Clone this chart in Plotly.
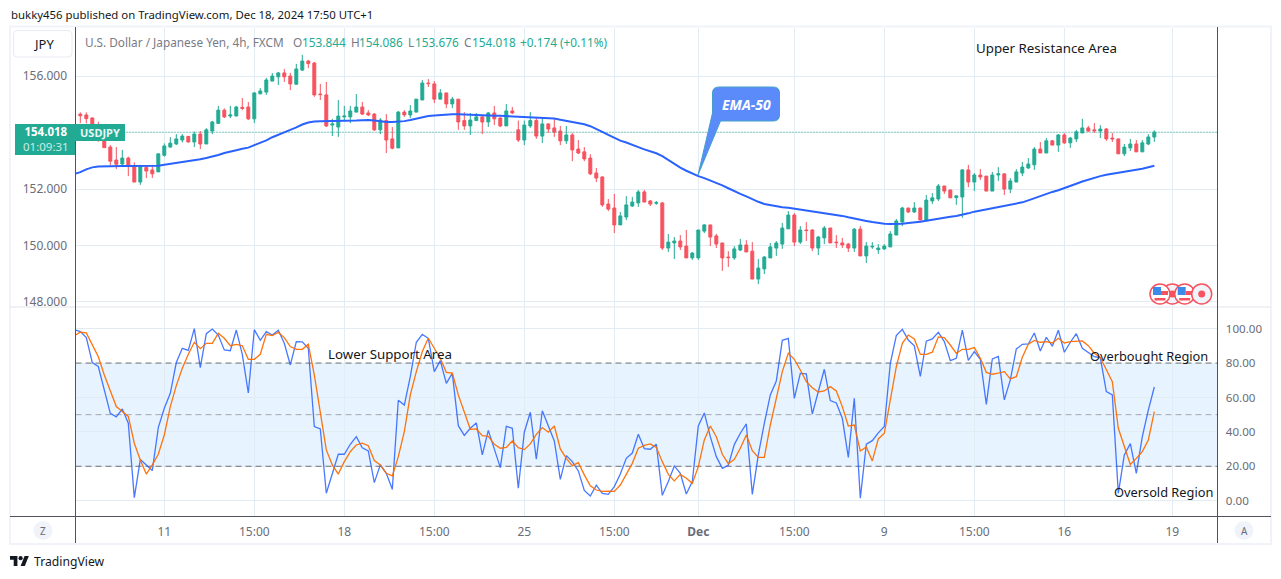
import plotly.graph_objects as go

# ---- data -----------------------------------------------------------------
bars = list(range(180))
open_ = [154.66,154.63,154.52,154.27,153.72,153.49,153.03,152.89,153.10,152.82,
152.25,152.77,152.68,152.61,153.20,153.49,153.60,153.74,153.87,153.67,
153.95,153.60,154.06,154.33,154.80,154.59,154.59,154.90,154.91,154.49,
155.38,155.44,155.83,155.98,156.12,156.01,155.72,156.22,156.54,156.47,
155.37,155.34,154.27,154.20,154.56,154.56,154.73,154.91,154.70,154.66,
154.10,154.43,153.78,153.46,154.73,154.63,154.73,155.16,155.76,155.73,
155.19,155.41,155.02,155.19,154.43,154.24,154.43,154.56,154.38,154.70,
154.52,154.24,154.77,154.10,153.74,154.24,154.43,153.88,154.31,154.17,
154.06,153.71,153.92,153.42,153.32,153.10,152.57,152.43,151.47,151.33,
150.73,151.01,151.40,151.51,151.90,151.58,151.50,151.51,149.91,150.09,
150.16,149.98,149.56,149.56,150.51,150.73,150.34,150.09,149.59,149.56,
149.84,150.02,149.80,148.81,149.17,149.56,149.91,150.05,150.59,151.08,
150.12,150.55,150.55,149.91,150.27,150.62,150.12,150.09,150.05,149.91,
150.58,149.63,149.95,149.85,149.88,149.95,150.37,150.83,151.33,151.19,
151.33,150.90,151.58,151.65,152.11,151.97,151.70,151.72,152.68,152.25,
152.50,152.46,151.93,152.50,152.54,152.00,152.25,152.57,152.75,152.86,
153.42,153.28,153.71,153.56,153.92,153.64,153.78,153.99,154.17,154.10,
154.06,154.13,153.81,153.78,153.25,153.46,153.60,153.32,153.60,153.844]
close = [154.60,154.50,154.04,153.80,153.47,152.99,152.88,153.10,152.80,152.25,
152.80,152.64,152.54,153.25,153.53,153.63,153.78,153.88,153.67,153.95,
153.60,154.10,154.38,154.80,154.56,154.63,154.91,154.86,154.49,155.41,
155.48,155.87,156.01,156.12,155.98,155.73,156.26,156.54,156.45,155.34,
155.35,154.24,154.31,154.59,154.59,154.77,154.91,154.66,154.63,154.10,
154.45,153.74,153.45,154.73,154.63,154.77,155.19,155.76,155.74,155.19,
155.41,155.02,155.19,154.38,154.24,154.45,154.56,154.38,154.70,154.49,
154.24,154.77,154.70,153.74,154.27,154.43,153.88,154.31,154.13,154.02,
153.71,153.92,153.39,153.28,153.07,152.54,152.39,151.44,151.29,150.73,
151.05,151.44,151.54,151.90,151.54,151.47,151.52,149.91,150.12,150.16,
149.95,149.56,149.73,150.55,150.73,150.30,150.05,149.56,149.57,149.88,
150.02,149.77,148.81,149.20,149.59,149.95,150.09,150.62,151.08,150.12,
150.55,150.53,149.91,150.30,150.62,150.09,150.10,150.02,149.91,150.58,
149.63,149.98,149.97,149.91,149.98,150.41,150.87,151.33,151.19,151.33,
150.90,151.61,151.69,152.11,151.93,151.69,151.76,152.68,152.25,152.50,
152.43,151.93,152.50,152.54,152.00,152.29,152.61,152.78,152.89,153.42,
153.28,153.71,153.56,153.92,153.64,153.81,154.03,154.17,154.06,154.07,
154.13,153.78,153.78,153.25,153.49,153.60,153.32,153.64,153.85,154.018]
high = [154.72,154.72,154.55,154.39,153.77,153.56,153.49,153.39,153.15,152.95,
152.86,152.83,152.86,153.25,153.62,153.84,153.95,153.95,153.88,154.04,
154.06,154.16,154.42,154.95,154.86,154.95,154.95,155.23,155.09,155.44,
155.58,155.94,156.12,156.15,156.26,156.12,156.44,156.76,156.58,156.51,
155.73,155.80,154.49,155.16,154.95,154.95,155.37,155.09,154.80,154.70,
154.52,154.66,154.20,154.77,154.80,154.98,155.19,155.87,155.90,155.83,
155.55,155.41,155.27,155.19,154.73,154.70,154.70,154.59,154.73,154.95,
154.56,155.02,154.91,154.43,154.43,154.73,154.56,154.52,154.34,154.49,
154.24,154.24,153.99,153.74,153.49,153.24,152.75,152.46,151.65,151.83,
151.19,151.75,151.72,151.97,151.97,151.61,151.58,151.54,150.41,150.30,
150.37,150.55,149.77,150.55,150.76,150.73,150.41,150.09,149.80,149.98,
150.23,150.19,150.12,149.52,149.63,150.09,150.16,150.80,151.22,151.15,
150.69,150.83,150.58,150.34,150.69,150.62,150.37,150.27,150.09,150.62,
150.69,150.12,150.12,150.05,150.05,150.51,150.94,151.37,151.33,151.54,
151.33,151.79,151.86,152.18,152.11,151.97,151.76,152.71,152.86,152.57,
152.71,152.46,152.61,152.78,152.54,152.39,152.71,152.96,153.10,153.49,
153.67,153.81,153.74,153.95,153.99,153.85,154.10,154.49,154.24,154.34,
154.27,154.17,153.99,153.78,153.60,153.78,153.74,153.74,153.95,154.086]
low = [154.34,154.33,153.74,153.68,153.47,152.84,152.71,152.83,152.46,152.25,
152.15,152.39,152.39,152.61,153.15,153.47,153.56,153.65,153.65,153.49,
153.42,153.60,153.95,154.31,154.52,154.52,154.59,154.80,154.45,154.34,
155.36,155.34,155.83,155.69,155.80,155.51,155.69,156.19,156.29,155.27,
155.16,154.20,153.88,153.85,154.45,154.34,154.73,154.63,154.59,154.06,
153.95,153.28,153.41,153.46,154.56,154.52,154.73,155.16,155.62,155.05,
155.19,154.87,154.87,154.10,154.10,153.92,154.43,153.95,154.20,154.27,
154.20,154.24,154.66,153.67,153.56,154.17,153.78,153.63,153.99,153.85,
153.56,153.60,152.99,153.24,152.99,152.50,152.25,151.37,151.22,150.44,
150.73,150.90,151.37,151.37,151.54,151.40,151.44,149.84,149.77,149.52,
149.84,149.56,149.49,149.49,150.44,149.98,149.91,149.10,149.24,149.49,
149.80,149.77,148.81,148.63,148.99,149.56,149.63,149.88,150.59,149.98,
150.05,150.16,149.80,149.66,150.05,150.09,149.91,149.91,149.77,149.77,
149.63,149.38,149.88,149.70,149.84,149.95,150.37,150.69,151.15,151.15,
150.90,150.90,151.47,151.58,151.83,151.69,151.44,150.98,152.07,151.93,
152.32,151.93,151.93,152.29,151.79,151.86,152.25,152.46,152.71,152.68,
153.28,153.28,153.56,153.32,153.60,153.46,153.67,153.99,154.03,153.99,
153.81,153.71,153.67,153.25,153.17,153.35,153.32,153.32,153.56,153.676]

# first value of the three lines below sits one bar left of the first candle
line_bars = [-1] + bars
ema50 = [152.54,152.60,152.70,152.77,152.80,152.81,152.82,152.82,152.82,152.82,152.82,
152.81,152.81,152.81,152.83,152.86,152.89,152.92,152.95,152.99,153.03,
153.06,153.10,153.15,153.21,153.28,153.34,153.38,153.43,153.47,153.56,
153.64,153.73,153.84,153.92,154.02,154.10,154.19,154.29,154.36,154.40,
154.41,154.41,154.41,154.42,154.42,154.43,154.43,154.44,154.45,154.43,
154.40,154.38,154.38,154.39,154.41,154.45,154.50,154.54,154.59,154.61,
154.63,154.65,154.65,154.65,154.64,154.62,154.62,154.61,154.61,154.60,
154.60,154.59,154.58,154.57,154.56,154.55,154.54,154.54,154.53,154.50,
154.46,154.42,154.38,154.34,154.30,154.23,154.14,154.03,153.92,153.81,
153.72,153.65,153.56,153.49,153.41,153.34,153.27,153.17,153.03,152.90,
152.76,152.65,152.55,152.46,152.39,152.31,152.23,152.13,152.03,151.92,
151.83,151.74,151.64,151.55,151.47,151.43,151.39,151.36,151.34,151.31,
151.28,151.25,151.21,151.18,151.15,151.12,151.10,151.05,151.00,150.95,
150.91,150.87,150.83,150.79,150.77,150.76,150.76,150.77,150.80,150.81,
150.84,150.88,150.92,150.95,151.00,151.02,151.05,151.09,151.14,151.20,
151.24,151.27,151.31,151.36,151.39,151.43,151.47,151.53,151.60,151.68,
151.76,151.84,151.90,151.96,152.03,152.10,152.19,152.27,152.34,152.40,
152.46,152.51,152.55,152.59,152.63,152.66,152.69,152.72,152.77,152.83]
stoch_k = [99.4,98.3,94.8,80.3,78.0,64.4,50.8,48.7,53.3,45.0,1.8,
23.9,20.8,17.5,42.5,53.7,62.4,80.3,88.6,87.4,100.0,
77.4,97.1,99.8,96.3,87.6,87.2,99.2,85.1,62.6,99.4,
93.2,98.3,96.3,99.1,91.5,78.9,92.5,92.3,88.6,43.1,
41.7,4.3,15.9,27.0,27.0,32.8,37.2,30.8,28.9,10.5,
20.8,15.9,6.6,58.4,55.6,72.1,92.1,96.7,94.4,75.0,
81.4,68.2,74.0,43.6,38.0,42.1,45.2,26.6,40.9,30.5,
19.2,43.2,42.1,7.2,39.8,51.4,24.1,52.3,43.1,34.7,
12.4,26.2,22.7,17.3,6.0,2.7,9.0,4.3,3.7,8.2,
15.5,24.6,27.7,38.6,30.3,29.9,32.8,3.1,11.1,20.2,
15.9,3.9,11.1,43.4,51.0,37.2,25.6,18.8,20.6,32.6,
39.2,44.6,3.7,26.6,45.0,61.5,69.6,93.2,94.4,59.5,
74.0,73.7,50.4,63.0,76.4,58.2,56.8,47.9,25.2,59.5,
1.4,32.8,34.9,39.4,43.1,79.9,96.0,99.6,93.4,90.0,
72.3,92.7,94.0,97.9,92.5,81.4,82.8,99.2,81.6,86.7,
82.2,56.0,82.4,83.9,58.6,70.2,88.2,90.9,91.1,97.5,
87.0,95.0,89.8,99.1,86.3,92.1,97.1,88.6,86.3,83.7,
83.2,63.4,61.5,4.3,26.6,33.2,15.9,37.2,52.7,66.1]
stoch_d = [96.0,97.9,97.5,90.9,83.7,73.1,64.4,54.7,51.8,49.0,33.4,
23.7,15.5,20.8,27.0,38.2,54.7,66.9,77.0,85.1,92.1,
88.4,91.5,91.5,97.3,94.4,90.1,90.9,90.1,82.2,82.2,
85.1,96.7,96.0,97.9,94.8,89.6,88.0,88.0,90.9,73.1,
51.8,29.5,20.8,15.5,22.7,28.5,32.4,33.4,32.0,23.3,
20.8,15.9,14.4,25.6,40.1,61.5,75.0,86.7,94.4,88.6,
82.8,74.6,74.2,61.5,50.8,41.5,41.7,37.8,37.4,32.8,
30.5,31.0,34.7,30.8,29.7,33.0,38.6,42.5,39.8,43.4,
30.1,24.6,20.4,22.1,15.0,8.7,6.2,5.4,5.6,5.4,
9.1,15.0,21.7,30.5,32.2,33.0,31.0,22.7,15.3,11.5,
15.3,13.0,10.1,19.8,35.3,43.4,37.2,27.0,21.5,24.1,
30.5,38.2,29.1,25.2,25.2,44.0,59.5,75.0,85.7,82.2,
76.0,69.2,65.7,63.2,63.8,66.3,63.8,54.7,43.4,44.0,
28.9,31.2,23.1,35.9,39.2,58.6,77.9,91.5,96.3,94.0,
85.1,85.1,86.3,95.2,94.8,90.5,85.7,88.0,88.0,89.0,
82.8,74.6,73.5,74.1,75.0,70.8,72.1,83.4,90.9,93.2,
92.1,92.5,91.7,94.4,91.7,92.5,92.5,92.9,90.1,85.7,
83.2,76.0,69.2,42.1,31.4,21.0,24.6,28.5,35.3,51.8]

time_ticks = [14,29,44,59,74,89,103,119,134,149,164,182]
time_labels = ["11","15:00","18","15:00","25","15:00","<b>Dec</b>","15:00","9","15:00","16","19"]
price_ticks = [148,150,152,154,156]
price_labels = ["148.000","150.000","152.000","","156.000"]
stoch_ticks = [0,20,40,60,80,100]
stoch_labels = ["0.00","20.00","40.00","60.00","80.00","100.00"]
last_price = 154.018
band_low, band_mid, band_high = 20, 50, 80

W, H = 1281, 579
UP, DOWN = "#22ab94", "#f7525f"
GRID, AXIS, TEXT, SEP = "#e2ecf3", "#50535e", "#6a6d78", "#e0e3eb"
FONT = "Noto Sans"
PANE_L, PANE_R = 75.5, 1217.5
x_range = [-0.8, 189.53]


def X(px):
    return px / W


def Y(py):
    return 1 - py / H


def poly(points):
    return "M" + " L".join(f"{X(a):.5f},{Y(b):.5f}" for a, b in points) + " Z"


fig = go.Figure()
fig.add_trace(go.Candlestick(
    x=bars, open=open_, high=high, low=low, close=close,
    xaxis="x", yaxis="y", whiskerwidth=0,
    increasing=dict(line=dict(color=UP, width=1), fillcolor=UP),
    decreasing=dict(line=dict(color=DOWN, width=1), fillcolor=DOWN),
    showlegend=False, hoverinfo="skip"))
fig.add_trace(go.Scatter(x=x_range, y=[last_price, last_price], mode="lines", xaxis="x", yaxis="y",
                         line=dict(color=UP, width=1, dash="1px,2px"), showlegend=False, hoverinfo="skip"))
fig.add_trace(go.Scatter(x=line_bars, y=ema50, mode="lines", xaxis="x", yaxis="y",
                         line=dict(color="#2962ff", width=2), showlegend=False, hoverinfo="skip"))
for level, colour in ((band_low, "#6f7178"), (band_mid, "#a4a7ae"), (band_high, "#6f7178")):
    fig.add_trace(go.Scatter(x=x_range, y=[level, level], mode="lines", xaxis="x2", yaxis="y2",
                             line=dict(color=colour, width=1, dash="6px,4px"), showlegend=False, hoverinfo="skip"))
fig.add_trace(go.Scatter(x=line_bars, y=stoch_k, mode="lines", xaxis="x2", yaxis="y2",
                         line=dict(color="#2962ff", width=1.3), opacity=0.85, showlegend=False, hoverinfo="skip"))
fig.add_trace(go.Scatter(x=line_bars, y=stoch_d, mode="lines", xaxis="x2", yaxis="y2",
                         line=dict(color="#ff6d00", width=1.3), opacity=0.95, showlegend=False, hoverinfo="skip"))

shapes = []
# stochastic band
shapes.append(dict(type="rect", xref="x2 domain", yref="y2", x0=0, x1=1, y0=band_low, y1=band_high,
                   fillcolor="rgba(33,150,243,0.11)", line=dict(width=0), layer="below"))


def paper_line(x0, y0, x1, y1, colour, width=1):
    shapes.append(dict(type="line", xref="paper", yref="paper", x0=X(x0), x1=X(x1), y0=Y(y0), y1=Y(y1),
                       line=dict(color=colour, width=width), layer="above"))


def paper_rect(x0, y0, x1, y1, fill, line=None, lw=0):
    shapes.append(dict(type="rect", xref="paper", yref="paper", x0=X(x0), x1=X(x1), y0=Y(y0), y1=Y(y1),
                       fillcolor=fill, line=dict(color=line or fill, width=lw), layer="above"))


def paper_circle(cx, cy, r, fill, line=None, lw=0):
    shapes.append(dict(type="circle", xref="paper", yref="paper", x0=X(cx - r), x1=X(cx + r),
                       y0=Y(cy - r), y1=Y(cy + r), fillcolor=fill,
                       line=dict(color=line or fill, width=lw), layer="above"))


def paper_path(points, fill, line=None, lw=0):
    shapes.append(dict(type="path", xref="paper", yref="paper", path=poly(points), fillcolor=fill,
                       line=dict(color=line or fill, width=lw), layer="above"))


# outer frame and pane separators
shapes.append(dict(type="rect", xref="paper", yref="paper", x0=X(10), x1=X(1271), y0=Y(26.5), y1=Y(544),
                   line=dict(color="#f0f3fa", width=2), layer="above"))
paper_line(10, 307, 1271, 307, SEP, 1)
paper_line(10, 516.5, 1271, 516.5, AXIS, 1)
paper_line(PANE_L, 27, PANE_L, 543, AXIS, 1)
paper_line(PANE_R, 27, PANE_R, 543, AXIS, 1)

# JPY box
shapes.append(dict(type="path", xref="paper", yref="paper", layer="above", fillcolor="white",
                   line=dict(color="#e8ebf2", width=1),
                   path=(f"M{X(17)},{Y(30.5)} L{X(68)},{Y(30.5)} Q{X(72)},{Y(30.5)} {X(72)},{Y(34.5)} "
                         f"L{X(72)},{Y(53)} Q{X(72)},{Y(57)} {X(68)},{Y(57)} L{X(17)},{Y(57)} "
                         f"Q{X(13.5)},{Y(57)} {X(13.5)},{Y(53)} L{X(13.5)},{Y(34.5)} "
                         f"Q{X(13.5)},{Y(30.5)} {X(17)},{Y(30.5)} Z")))

# price tag
paper_rect(15, 124, 75, 155, UP)
paper_rect(75, 124, 125, 141, UP)

# EMA-50 callout (anchored at the EMA on the "Dec" bar)
shapes.append(dict(type="path", xref="paper", yref="paper", layer="above", fillcolor="#5b8bfb",
                   line=dict(color="#45a0c8", width=1),
                   path=(f"M{X(719)},{Y(87)} L{X(773)},{Y(87)} Q{X(779.5)},{Y(87)} {X(779.5)},{Y(93)} "
                         f"L{X(779.5)},{Y(115)} Q{X(779.5)},{Y(121)} {X(773)},{Y(121)} L{X(720.5)},{Y(121)} "
                         f"L{X(698)},{Y(175)} L{X(712.5)},{Y(113)} L{X(712.5)},{Y(93)} "
                         f"Q{X(712.5)},{Y(87)} {X(719)},{Y(87)} Z")))

# event markers
FLAG_R = 10
for cx, kind in ((1172.3, "jp"), (1184.7, "us"), (1160, "us"), (1201.7, "jp")):
    if kind == "jp":
        paper_circle(cx, 294, FLAG_R, "#f0f3fa", DOWN, 1.5)
        paper_circle(cx, 294, 3.5, DOWN)
    else:
        paper_circle(cx, 294, FLAG_R, "white", DOWN, 1.5)
        paper_rect(cx + 1, 291, cx + 8, 295, DOWN)
        paper_rect(cx - 5.5, 298, cx + 5.5, 300.5, DOWN)
        paper_rect(cx - 7, 287, cx + 1, 295, "#3a8bea")

# Z / A buttons
paper_circle(43, 530.5, 9.5, "#f0f3fa")
paper_circle(1244, 530.5, 9.5, "#f0f3fa")

# TradingView logo
lx, ly, sx, sy = 10, 556, 0.53, 0.55


def logo(a, b):
    return (lx + sx * a, ly + sy * (b - 4))


paper_path([logo(a, b) for a, b in ((14, 22), (7, 22), (7, 11), (0, 11), (0, 4), (14, 4))], "#131722")
paper_path([logo(a, b) for a, b in ((28, 22), (20, 22), (27.5, 4), (35.5, 4))], "#131722")
paper_circle(*logo(20, 8), 2.1, "#131722")


def label(x, y, text, colour=TEXT, size=12, anchor="left", family=FONT):
    return dict(xref="paper", yref="paper", x=X(x), y=Y(y), text=text, showarrow=False, xanchor=anchor,
                yanchor="middle", borderpad=0, font=dict(family=family, size=size, color=colour))


annotations = [
    label(10, 15, "bukky456 published on TradingView.com, Dec 18, 2024 17:50 UTC+1", "#131722", 11.4),
    label(43, 44, "JPY", "#131722", 13, "center"),
    label(84, 42, "U.S. Dollar / Japanese Yen, 4h, FXCM", "#787b86", 11.8),
    label(292, 42, "O", "#787b86", 11.8), label(301, 42, "153.844", UP, 11.8),
    label(349.5, 42, "H", "#787b86", 11.8), label(358.5, 42, "154.086", UP, 11.8),
    label(407, 42, "L", "#787b86", 11.8), label(413.5, 42, "153.676", UP, 11.8),
    label(462.5, 42, "C", "#787b86", 11.8), label(470.5, 42, "154.018", UP, 11.8),
    label(519, 42, "+0.174 (+0.11%)", UP, 11.8),
    label(975, 48, "Upper Resistance Area", "#131722", 13.3),
    label(326.5, 354, "Lower Support Area", "#131722", 13.3),
    label(1089, 355.5, "Overbought Region", "#131722", 12.8),
    label(1113, 492.5, "Oversold Region", "#131722", 12.8),
    label(746, 104, "<b><i>EMA-50</i></b>", "white", 14, "center"),
    label(45.5, 139.5, "<b>154.018</b><br><span style='color:#c9ece6'>01:09:31</span>", "white", 11.5, "center"),
    label(100, 132.5, "<b>USDJPY</b>", "#e9f7f5", 11, "center"),
    label(43, 531, "Z", TEXT, 10, "center"),
    label(1244, 531, "A", TEXT, 10, "center"),
    label(32.5, 561, "TradingView", "#131722", 12.2),
]

tickfont = dict(family=FONT, size=12, color=TEXT)
stochfont = dict(family=FONT, size=11.6, color=TEXT)
layout = dict(
    width=W, height=H, margin=dict(l=0, r=0, t=0, b=0, pad=0), autosize=False,
    paper_bgcolor="white", plot_bgcolor="white", showlegend=False, boxgap=0.3,
    xaxis=dict(domain=[X(PANE_L), X(PANE_R)], range=x_range, anchor="y", tickvals=time_ticks,
               showticklabels=False, showgrid=True, gridcolor=GRID, gridwidth=1, zeroline=False,
               rangeslider=dict(visible=False), ticks="", automargin=False),
    xaxis2=dict(domain=[X(PANE_L), X(PANE_R)], range=x_range, anchor="y2", tickvals=time_ticks,
                ticktext=time_labels, tickfont=tickfont, showgrid=True, gridcolor=GRID, gridwidth=1,
                zeroline=False, ticks="outside", ticklen=5, tickcolor="rgba(0,0,0,0)", automargin=False),
    yaxis=dict(domain=[Y(306.5), Y(27.5)], range=[147.837, 157.73], anchor="x", side="left",
               tickvals=price_ticks, ticktext=price_labels, tickfont=tickfont, showgrid=True,
               gridcolor=GRID, gridwidth=1, zeroline=False, ticks="outside", ticklen=5,
               tickcolor="rgba(0,0,0,0)", automargin=False),
    yaxis2=dict(domain=[Y(516), Y(307.5)], range=[-8.9, 112.3], anchor="x2", side="right",
                tickvals=stoch_ticks, ticktext=stoch_labels, tickfont=stochfont, showgrid=True,
                gridcolor=GRID, gridwidth=1, zeroline=False, ticks="outside", ticklen=5,
                tickcolor="rgba(0,0,0,0)", automargin=False),
    shapes=shapes, annotations=annotations,
)
fig.update_layout(**layout)
fig.write_html("out.html", config=dict(displayModeBar=False),
               post_script="document.body.style.margin='0';")
